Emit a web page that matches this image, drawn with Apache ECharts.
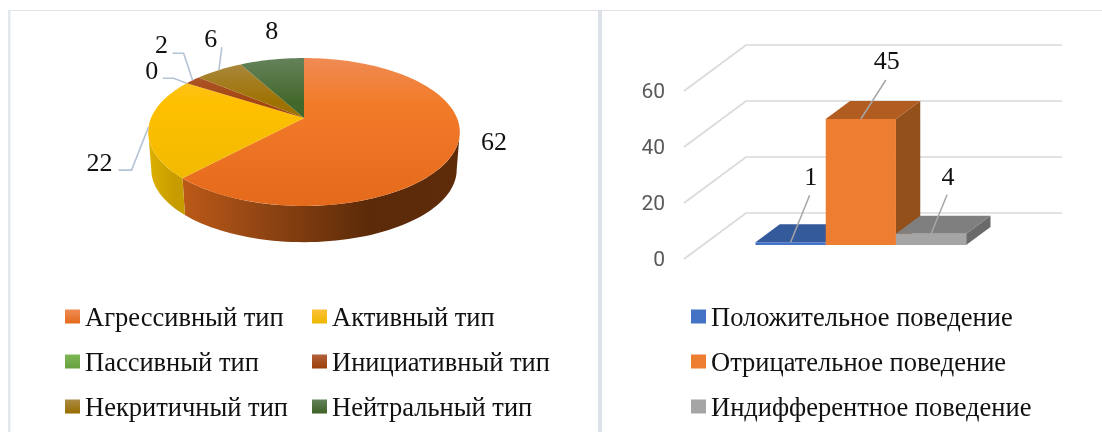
<!DOCTYPE html>
<html>
<head>
<meta charset="utf-8">
<style>html,body{margin:0;padding:0;background:#fff}#main{width:1102px;height:432px}</style>
<script src="https://cdn.jsdelivr.net/npm/echarts@6/dist/echarts.min.js"></script>
</head>
<body>
<div id="main"></div>
<script>
// данные
var pieNames = ['Агрессивный тип', 'Активный тип', 'Пассивный тип', 'Инициативный тип', 'Некритичный тип', 'Нейтральный тип'];
var pieValues = [62, 22, 0, 2, 6, 8];
var barNames = ['Положительное поведение', 'Отрицательное поведение', 'Индифферентное поведение'];
var barValues = [1, 45, 4];
var yTicks = [0, 20, 40, 60];

// цвета: [верх, середина, низ] для секторов
var pieTopColors = [
    ['#EF8B54', '#F27B2A', '#E56A1B'],
    ['#FDC23A', '#FFC000', '#ECB700'],
    ['#7DB755', '#70AD47', '#66A03F'],
    ['#B0603A', '#A5450F', '#9E3F08'],
    ['#AC8A45', '#9E7200', '#966C00'],
    ['#64825A', '#43682B', '#3D6126']
];
var pieWallColors = [
    ['#BC5A17', '#964814', '#5B2A08', '#5F2C0A'],
    ['#DDAE00', '#D5A800', '#C79C00', '#C79C00']
];
var barColors = [
    {front: '#4472C4', top: '#345A9B', side: '#2C4C84'},
    {front: '#ED7D31', top: '#B15C20', side: '#94501B'},
    {front: '#A5A5A5', top: '#7F7F7F', side: '#6A6A6A'}
];

// подписи: смещение от точки на ободе / верха столбика, изгибы выносок
var pieLabelLayout = [
    {label: [37, -3], bends: []},
    {label: [-49, 37], bends: [[-17, 43], [-30, 43]]},
    {label: [-35, -11], bends: [[-13, -5], [-24, -5]]},
    {label: [-31, -34], bends: [[-9, -27], [-20, -27]]},
    {label: [-8, -30], bends: [[3, -23]]},
    {label: [0, -27], bends: []}
];
var barLabelLayout = [
    {label: [20, -64], bend: [19, -47]},
    {label: [26, -57], bend: [25, -39]},
    {label: [17, -56], bend: [16, -39]}
];

var serifFont = '"Liberation Serif","Times New Roman",serif';
var labelFont = '26px ' + serifFont;
var leaderPie = '#B4C3D6';
var leaderBar = '#A6A6A6';

// перспектива круга
var cx = 304, apexY = 118, pieR = 153, persp = 0.189, tilt = -49, wallH = 38, wallShrink = 0.98;

function rim(deg) {
    var a = deg * Math.PI / 180, u = Math.sin(a), v = Math.cos(a), d = 1 + persp * v;
    return [cx + pieR * u / d, (apexY + tilt * v) / d];
}
function rimBottom(deg) {
    var p = rim(deg);
    return [cx + (p[0] - cx) * wallShrink, apexY + (p[1] - apexY) * wallShrink + wallH];
}
function arcPoints(fn, from, to) {
    var pts = [], n = Math.max(2, Math.ceil((to - from) / 2));
    for (var i = 0; i <= n; i++) {
        pts.push(fn(from + (to - from) * i / n));
    }
    return pts;
}
function vGrad(c) {
    // квадратик занимает верхние 14 из 20 px значка легенды
    return {type: 'linear', x: 0, y: 0, x2: 0, y2: 0.7, colorStops: [{offset: 0, color: c[0]}, {offset: 1, color: c[1]}]};
}

var pieTotal = pieValues.reduce(function (s, v) { return s + v; }, 0);

function pieItem(index) {
    return function (params, api) {
        var value = api.value(0);
        var start = 0;
        for (var i = 0; i < index; i++) {
            start += pieValues[i] / pieTotal * 360;
        }
        var end = start + value / pieTotal * 360;
        var children = [];
        var c = pieTopColors[index];
        if (value > 0) {
            // боковая стенка видна только спереди
            var wFrom = Math.max(start, 101), wTo = Math.min(end, 259);
            if (wTo > wFrom && pieWallColors[index]) {
                var w = pieWallColors[index];
                children.push({
                    type: 'polygon',
                    shape: {points: arcPoints(rim, wFrom, wTo).concat(arcPoints(rimBottom, wFrom, wTo).reverse())},
                    style: {fill: {
                        type: 'linear', global: true, x: index ? 150 : 182, y: 0, x2: index ? 186 : 460, y2: 0,
                        colorStops: [{offset: 0, color: w[0]}, {offset: 0.25, color: w[1]}, {offset: 0.68, color: w[2]}, {offset: 1, color: w[3]}]
                    }}
                });
            }
            children.push({
                type: 'polygon',
                shape: {points: [[cx, apexY]].concat(arcPoints(rim, start, end))},
                style: {fill: {
                    type: 'linear', global: true, x: 0, y: 58, x2: 0, y2: 206,
                    colorStops: [{offset: 0, color: c[0]}, {offset: 0.3, color: c[1]}, {offset: 1, color: c[2]}]
                }}
            });
        }
        var anchor = rim((start + end) / 2);
        var layout = pieLabelLayout[index];
        if (layout.bends.length) {
            children.push({
                type: 'polyline',
                shape: {points: [anchor].concat(layout.bends.map(function (b) { return [anchor[0] + b[0], anchor[1] + b[1]]; }))},
                style: {stroke: leaderPie, lineWidth: 1.6, fill: null}
            });
        }
        children.push({
            type: 'text',
            style: {
                x: anchor[0] + layout.label[0], y: anchor[1] + layout.label[1],
                text: String(value), font: labelFont, fill: '#111', align: 'center', verticalAlign: 'middle'
            }
        });
        return {type: 'group', children: children};
    };
}

// глубина столбиков относительно передней плоскости
var wallDepth = [62, -46], barFrontDepth = 0.304, barBackDepth = 0.696, gapWidth = 1.5;

function wallItem(params, api) {
    var front = api.coord([0, api.value(0)]);
    var size = api.size([1, 0])[0];
    var left = front[0] - size / 2;
    var back = [left + wallDepth[0], front[1] + wallDepth[1]];
    return {
        type: 'polyline',
        shape: {points: [[left, front[1]], back, [back[0] + size, back[1]]]},
        style: {stroke: '#D9D9D9', lineWidth: 1.6, fill: null}
    };
}

function barItem(index) {
    return function (params, api) {
        var value = api.value(1);
        var base = api.coord([api.value(0), 0]);
        var topPt = api.coord([api.value(0), value]);
        var band = api.size([1, 0])[0];
        var w = band / (barValues.length + gapWidth);
        var fx = wallDepth[0] * barFrontDepth, fy = wallDepth[1] * barFrontDepth;
        var ox = wallDepth[0] * (barBackDepth - barFrontDepth), oy = wallDepth[1] * (barBackDepth - barFrontDepth);
        var x0 = base[0] - 1.5 * w + index * w + fx, x1 = x0 + w;
        var y0 = base[1] + fy, y1 = topPt[1] + fy;
        var col = barColors[index];
        var layout = barLabelLayout[index];
        var mid = [(x0 + x1) / 2, y1];
        return {type: 'group', children: [
            {type: 'polygon', shape: {points: [[x1, y1], [x1 + ox, y1 + oy], [x1 + ox, y0 + oy], [x1, y0]]}, style: {fill: col.side}},
            {type: 'polygon', shape: {points: [[x0, y1], [x1, y1], [x1 + ox, y1 + oy], [x0 + ox, y1 + oy]]}, style: {fill: col.top}},
            {type: 'rect', shape: {x: x0, y: y1, width: w, height: y0 - y1}, style: {fill: col.front}},
            {type: 'polyline', shape: {points: [mid, [mid[0] + layout.bend[0], mid[1] + layout.bend[1]]]}, style: {stroke: leaderBar, lineWidth: 1.5, fill: null}},
            {type: 'text', style: {
                x: mid[0] + layout.label[0], y: mid[1] + layout.label[1],
                text: String(value), font: labelFont, fill: '#111', align: 'center', verticalAlign: 'middle'
            }}
        ]};
    };
}

var series = [];
pieNames.forEach(function (name, i) {
    series.push({
        name: name,
        type: 'custom',
        coordinateSystem: 'none',
        data: [[pieValues[i]]],
        renderItem: pieItem(i),
        itemStyle: {color: vGrad([pieTopColors[i][0], pieTopColors[i][2]])},
        silent: true,
        animation: false
    });
});
series.push({
    name: 'Стенки',
    type: 'custom',
    xAxisIndex: 0,
    yAxisIndex: 0,
    data: yTicks.map(function (t) { return [t]; }),
    encode: {y: 0},
    renderItem: wallItem,
    silent: true,
    animation: false
});
barNames.forEach(function (name, i) {
    series.push({
        name: name,
        type: 'custom',
        xAxisIndex: 0,
        yAxisIndex: 0,
        data: [[0, barValues[i]]],
        encode: {x: 0, y: 1},
        renderItem: barItem(i),
        itemStyle: {color: barColors[i].front},
        silent: true,
        animation: false
    });
});

function legendCol(names, left) {
    return {
        orient: 'vertical',
        left: left,
        top: 306,
        padding: 0,
        itemWidth: 15,
        itemHeight: 20,
        itemGap: 18,
        // значок выше квадратика, чтобы текст был чуть ниже него
        icon: 'path://M0 0H15V14H0Z M0 20H0.01V20Z',
        selectedMode: false,
        data: names,
        textStyle: {fontFamily: serifFont, fontSize: 26.5, color: '#111', lineHeight: 24}
    };
}

var chart = echarts.init(document.getElementById('main'), null, {renderer: 'canvas'});
chart.setOption({
    backgroundColor: '#fff',
    animation: false,
    legend: [
        legendCol([pieNames[0], pieNames[2], pieNames[4]], 65),
        legendCol([pieNames[1], pieNames[3], pieNames[5]], 312),
        legendCol(barNames, 691)
    ],
    grid: {left: 684, top: 91, width: 316, height: 168},
    xAxis: {
        type: 'category',
        data: ['Поведение'],
        axisLine: {show: false},
        axisTick: {show: false},
        axisLabel: {show: false},
        splitLine: {show: false}
    },
    yAxis: {
        type: 'value',
        min: 0,
        max: 60,
        interval: 20,
        axisLine: {show: false},
        axisTick: {show: false},
        splitLine: {show: false},
        axisLabel: {margin: 19, color: '#595959', fontFamily: 'Roboto', fontSize: 21, verticalAlign: 'top', lineHeight: 4}
    },
    graphic: [
        {type: 'rect', silent: true, shape: {x: 8, y: 10, width: 1094, height: 1}, style: {fill: '#E2E2E2'}},
        {type: 'rect', silent: true, shape: {x: 8, y: 10, width: 2.5, height: 422}, style: {fill: '#E3E8EF'}},
        {type: 'rect', silent: true, shape: {x: 598, y: 10, width: 4, height: 422}, style: {fill: '#DDE2E8'}}
    ],
    series: series
});
</script>
</body>
</html>
